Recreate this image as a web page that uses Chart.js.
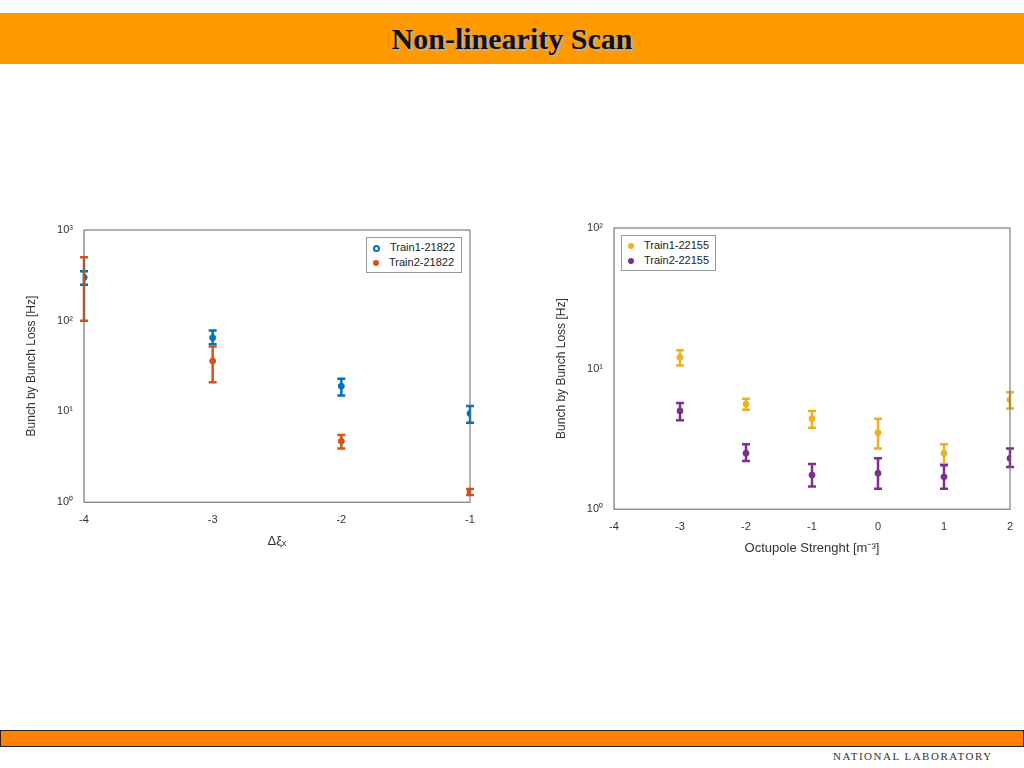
<!DOCTYPE html>
<html>
<head>
<meta charset="utf-8">
<script src="https://cdn.jsdelivr.net/npm/chart.js@4.4.0/dist/chart.umd.min.js"></script>
<style>
  body { margin: 0; width: 1024px; height: 768px; background: #fff; position: relative; overflow: hidden; font-family: "Liberation Sans", Arial, sans-serif; }
  .header { position: absolute; left: 0; top: 13px; width: 1024px; height: 51px; background: #ff9900; }
  .header h1 { margin: 0; text-align: center; font: bold 30px "Liberation Serif", "Times New Roman", serif; line-height: 51px; color: #111; text-shadow: 2px 2px 2px #b5b5b5; }
  .footer { position: absolute; left: 0; top: 730px; width: 1022px; height: 15px; background: #ff7f00; border: 1px solid #222; }
  .lab { position: absolute; left: 833px; top: 750px; font: 11px "Liberation Serif", serif; letter-spacing: 1.5px; color: #333; }
  .pw { position: absolute; }
  .legend { position: absolute; border: 1px solid #999; background: #fff; font-size: 11px; padding: 2px 6px 2px 4px; line-height: 15px; color: #222; }
  .legend span.dot { display: inline-block; width: 6px; height: 6px; border-radius: 50%; margin: 0 10px 0 2px; vertical-align: middle; }
</style>
</head>
<body>
<div class="header"><h1>Non-linearity Scan</h1></div>

<div class="pw" style="left:20px;top:220px;width:460px;height:333px;"><canvas id="left"></canvas></div>
<div class="pw" style="left:550px;top:218px;width:470px;height:342px;"><canvas id="right"></canvas></div>

<div class="legend" style="left:366px;top:237px;">
  <div><span class="dot" style="border:2px solid #0072BD;width:3px;height:3px;"></span>Train1-21822</div>
  <div><span class="dot" style="background:#D95319;"></span>Train2-21822</div>
</div>
<div class="legend" style="left:621px;top:235px;">
  <div><span class="dot" style="background:#EDB120;"></span>Train1-22155</div>
  <div><span class="dot" style="background:#7E2F8E;"></span>Train2-22155</div>
</div>

<div class="footer"></div>
<div class="lab">NATIONAL LABORATORY</div>

<script>
// left chart: chromaticity scan
const xiSteps = [-4, -3, -2, -1];
const t1_21822 = [300, 65, 19, 9.5];
const t1_21822_lo = [250, 55, 15, 7.5];
const t1_21822_hi = [350, 78, 23, 11.5];
const t2_21822 = [300, 36, 4.7, 1.3];
const t2_21822_lo = [100, 21, 3.9, 1.2];
const t2_21822_hi = [500, 52, 5.5, 1.4];

// right chart: octupole scan
const octSteps = [-3, -2, -1, 0, 1, 2];
const t1_22155 = [12, 5.6, 4.4, 3.5, 2.5, 6];
const t1_22155_lo = [10.5, 5.1, 3.8, 2.7, 2.1, 5.2];
const t1_22155_hi = [13.5, 6.1, 5.0, 4.4, 2.9, 6.8];
const t2_22155 = [5, 2.5, 1.75, 1.8, 1.7, 2.3];
const t2_22155_lo = [4.3, 2.2, 1.45, 1.4, 1.4, 2.0];
const t2_22155_hi = [5.7, 2.9, 2.1, 2.3, 2.05, 2.7];

const supers = { '0': '⁰', '1': '¹', '2': '²', '3': '³' };

const makeSet = (xs, ys, lo, hi, color) => ({
  data: xs.map((x, i) => ({ x: x, y: ys[i], lo: lo[i], hi: hi[i] })),
  backgroundColor: color,
  borderColor: color,
  pointRadius: 3,
  showLine: false
});

// draws vertical error bars + axes box
const errorBars = {
  id: 'errorBars',
  afterDatasetsDraw(chart) {
    const { ctx, scales: { x, y }, chartArea: a } = chart;
    ctx.save();
    chart.data.datasets.forEach(ds => {
      ctx.strokeStyle = ds.borderColor;
      ctx.lineWidth = 2.5;
      ds.data.forEach(p => {
        const px = x.getPixelForValue(p.x);
        const y1 = y.getPixelForValue(p.lo);
        const y2 = y.getPixelForValue(p.hi);
        ctx.beginPath();
        ctx.moveTo(px, y1); ctx.lineTo(px, y2);
        ctx.moveTo(px - 4, y1); ctx.lineTo(px + 4, y1);
        ctx.moveTo(px - 4, y2); ctx.lineTo(px + 4, y2);
        ctx.stroke();
      });
    });
    ctx.strokeStyle = '#666';
    ctx.lineWidth = 1;
    ctx.strokeRect(a.left, a.top, a.right - a.left, a.bottom - a.top);
    ctx.restore();
  }
};

function makeChart(id, xs, xmin, xmax, ymax, xTitle, sets) {
  return new Chart(document.getElementById(id), {
    type: 'scatter',
    data: { datasets: sets },
    plugins: [errorBars],
    options: {
      responsive: true,
      maintainAspectRatio: false,
      animation: false,
      layout: { padding: { right: 10, top: 10 } },
      plugins: { legend: { display: false }, tooltip: { enabled: false } },
      scales: {
        x: {
          type: 'linear', min: xmin, max: xmax,
          grid: { display: false },
          ticks: { stepSize: 1, color: '#333', font: { size: 11 } },
          title: { display: true, text: xTitle, color: '#333', font: { size: 13 } }
        },
        y: {
          type: 'logarithmic', min: 1, max: ymax,
          grid: { display: false },
          afterFit(s) { s.width = 64; },
          ticks: {
            color: '#333', font: { size: 11 },
            callback(v) {
              const e = Math.log10(v);
              return Math.abs(e - Math.round(e)) < 1e-6 ? '10' + supers[String(Math.round(e))] : '';
            }
          },
          title: { display: true, text: 'Bunch by Bunch Loss [Hz]', color: '#333', font: { size: 12 } }
        }
      }
    }
  });
}

makeChart('left', xiSteps, -4, -1, 1000, 'Δξₓ', [
  makeSet(xiSteps, t1_21822, t1_21822_lo, t1_21822_hi, '#0072BD'),
  makeSet(xiSteps, t2_21822, t2_21822_lo, t2_21822_hi, '#D95319')
]);
makeChart('right', octSteps, -4, 2, 100, 'Octupole Strenght [m⁻³]', [
  makeSet(octSteps, t1_22155, t1_22155_lo, t1_22155_hi, '#EDB120'),
  makeSet(octSteps, t2_22155, t2_22155_lo, t2_22155_hi, '#7E2F8E')
]);
</script>
</body>
</html>
